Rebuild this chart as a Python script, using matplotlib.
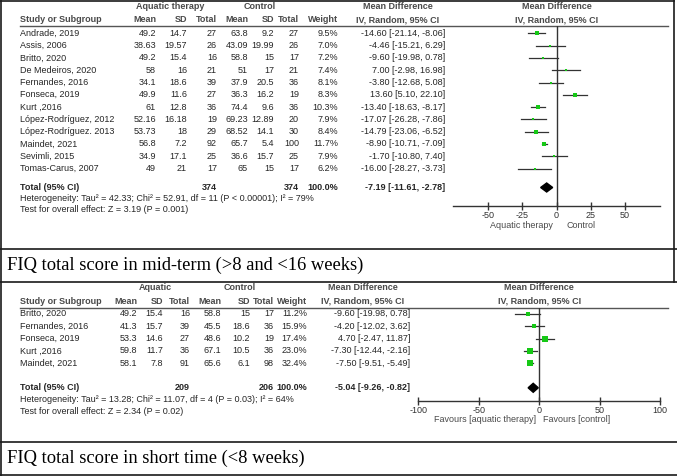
import matplotlib
matplotlib.use("Agg")
import matplotlib.pyplot as plt
from matplotlib.patches import Polygon

W, H = 677, 476

# ---- mid-term panel data ----
studies_mid = ["Andrade, 2019", "Assis, 2006", "Britto, 2020", "De Medeiros, 2020",
               "Fernandes, 2016", "Fonseca, 2019", "Kurt ,2016", "López-Rodríguez, 2012",
               "López-Rodríguez. 2013", "Maindet, 2021", "Sevimli, 2015", "Tomas-Carus, 2007"]
aq_mean_mid = [49.2, 38.63, 49.2, 58, 34.1, 49.9, 61, 52.16, 53.73, 56.8, 34.9, 49]
aq_sd_mid   = [14.7, 19.57, 15.4, 16, 18.6, 11.6, 12.8, 16.18, 18, 7.2, 17.1, 21]
aq_n_mid    = [27, 26, 16, 21, 39, 27, 36, 19, 29, 92, 25, 17]
ct_mean_mid = [63.8, 43.09, 58.8, 51, 37.9, 36.3, 74.4, 69.23, 68.52, 65.7, 36.6, 65]
ct_sd_mid   = [9.2, 19.99, 15, 17, 20.5, 16.2, 9.6, 12.89, 14.1, 5.4, 15.7, 15]
ct_n_mid    = [27, 26, 17, 21, 36, 19, 36, 20, 30, 100, 25, 17]
weight_mid  = [9.5, 7.0, 7.2, 7.4, 8.1, 8.3, 10.3, 7.9, 8.4, 11.7, 7.9, 6.2]
md_mid      = [-14.60, -4.46, -9.60, 7.00, -3.80, 13.60, -13.40, -17.07, -14.79, -8.90, -1.70, -16.00]
lo_mid      = [-21.14, -15.21, -19.98, -2.98, -12.68, 5.10, -18.63, -26.28, -23.06, -10.71, -10.80, -28.27]
hi_mid      = [-8.06, 6.29, 0.78, 16.98, 5.08, 22.10, -8.17, -7.86, -6.52, -7.09, 7.40, -3.73]
total_mid   = dict(an=374, cn=374, md=-7.19, lo=-11.61, hi=-2.78)
het_mid  = "Heterogeneity: Tau² = 42.33; Chi² = 52.91, df = 11 (P < 0.00001); I² = 79%"
test_mid = "Test for overall effect: Z = 3.19 (P = 0.001)"
ticks_mid = [-50, -25, 0, 25, 50]

# ---- short-time panel data ----
studies_short = ["Britto, 2020", "Fernandes, 2016", "Fonseca, 2019", "Kurt ,2016", "Maindet, 2021"]
aq_mean_short = [49.2, 41.3, 53.3, 59.8, 58.1]
aq_sd_short   = [15.4, 15.7, 14.6, 11.7, 7.8]
aq_n_short    = [16, 39, 27, 36, 91]
ct_mean_short = [58.8, 45.5, 48.6, 67.1, 65.6]
ct_sd_short   = [15, 18.6, 10.2, 10.5, 6.1]
ct_n_short    = [17, 36, 19, 36, 98]
weight_short  = [11.2, 15.9, 17.4, 23.0, 32.4]
md_short      = [-9.60, -4.20, 4.70, -7.30, -7.50]
lo_short      = [-19.98, -12.02, -2.47, -12.44, -9.51]
hi_short      = [0.78, 3.62, 11.87, -2.16, -5.49]
total_short   = dict(an=209, cn=206, md=-5.04, lo=-9.26, hi=-0.82)
het_short  = "Heterogeneity: Tau² = 13.28; Chi² = 11.07, df = 4 (P = 0.03); I² = 64%"
test_short = "Test for overall effect: Z = 2.34 (P = 0.02)"
ticks_short = [-100, -50, 0, 50, 100]

SANS = "Liberation Sans"
SERIF = "Liberation Serif"
FS = 6.5
TXT = "#262626"
HDR = "#4a4a4a"
LINE = "#333333"
GREEN = "#16c816"

fig = plt.figure(figsize=(W / 100, H / 100), dpi=100)
bg = fig.add_axes([0, 0, 1, 1])
bg.set_xlim(0, W)
bg.set_ylim(H, 0)
bg.axis("off")


def t(x, y, s, ha="left", bold=False, color=TXT, size=FS, family=SANS):
    bg.text(x, y, s, ha=ha, va="center", fontsize=size, family=family,
            fontweight="bold" if bold else "normal", color=color)


def panel(studies, am, asd, an, cm, csd, cn, wt, md, lo, hi, tot, het, test,
          ticks, xr, zero_px, ppu, L, left_lbl, right_lbl):
    # header
    t(L["aq_c"], L["h1"], L["aq_title"], ha="center", bold=True, color=HDR)
    t(L["ct_c"], L["h1"], "Control", ha="center", bold=True, color=HDR)
    t(L["ci"] - 47, L["h1"], "Mean Difference", ha="center", bold=True, color=HDR)
    t(zero_px, L["h1"], "Mean Difference", ha="center", bold=True, color=HDR)
    hdrs = [("Study or Subgroup", 20, "left"), ("Mean", L["am"], "right"), ("SD", L["asd"], "right"),
            ("Total", L["an"], "right"), ("Mean", L["cm"], "right"), ("SD", L["csd"], "right"),
            ("Total", L["cn"], "right"), ("Weight", L["w"], "right")]
    for s, x, ha in hdrs:
        t(x, L["h2"], s, ha=ha, bold=True, color=HDR)
    t(L["ci"] - 47, L["h2"], "IV, Random, 95% CI", ha="center", bold=True, color=HDR)
    t(zero_px, L["h2"], "IV, Random, 95% CI", ha="center", bold=True, color=HDR)
    bg.plot([20, 668], [L["ul"], L["ul"]], color="#555555", lw=1)

    y0, dy = L["row0"], L["dy"]
    for i, name in enumerate(studies):
        y = y0 + i * dy
        t(20, y, name)
        t(L["am"], y, f"{am[i]:g}", ha="right")
        t(L["asd"], y, f"{asd[i]:g}", ha="right")
        t(L["an"], y, f"{an[i]}", ha="right")
        t(L["cm"], y, f"{cm[i]:g}", ha="right")
        t(L["csd"], y, f"{csd[i]:g}", ha="right")
        t(L["cn"], y, f"{cn[i]}", ha="right")
        t(L["w"], y, f"{wt[i]:.1f}%", ha="right")
        t(L["ci"], y, f"{md[i]:.2f} [{lo[i]:.2f}, {hi[i]:.2f}]", ha="right")
    yt = L["tot"]
    t(20, yt, "Total (95% CI)", bold=True)
    t(L["an"], yt, f"{tot['an']}", ha="right", bold=True)
    t(L["cn"], yt, f"{tot['cn']}", ha="right", bold=True)
    t(L["w"], yt, "100.0%", ha="right", bold=True)
    t(L["ci"], yt, f"{tot['md']:.2f} [{tot['lo']:.2f}, {tot['hi']:.2f}]", ha="right", bold=True)
    t(20, L["het"], het)
    t(20, L["test"], test)

    # forest axes, positioned in pixels
    x0 = zero_px + xr[0] * ppu
    x1 = zero_px + xr[1] * ppu
    ax = fig.add_axes([x0 / W, 1 - L["axis"] / H, (x1 - x0) / W, (L["axis"] - L["ul"]) / H])
    ax.set_xlim(*xr)
    rtop = (L["ul"] - y0) / dy
    rbot = (L["axis"] - y0) / dy
    ax.set_ylim(rbot, rtop)
    ax.patch.set_alpha(0)
    for sp in ["top", "left", "right"]:
        ax.spines[sp].set_visible(False)
    ax.spines["bottom"].set_color(LINE)
    ax.spines["bottom"].set_linewidth(1)
    ax.set_yticks([])
    ax.set_xticks(ticks)
    ax.set_xticklabels([f"{v}" for v in ticks], family=SANS)
    ax.tick_params(axis="x", direction="inout", length=6, width=1, colors=LINE,
                   labelsize=FS, pad=0.5)
    ax.axvline(0, color=LINE, lw=1)
    for i in range(len(studies)):
        ax.plot([lo[i], hi[i]], [i, i], color=LINE, lw=0.9, clip_on=False)
        ax.plot(md[i], i, marker="s", ms=1.05 * wt[i] ** 0.5 * 0.72 * L["msk"],
                color=GREEN, mec=GREEN, mew=0, clip_on=False)
    rt = (yt - y0) / dy
    h = 4.5 / dy
    ax.add_patch(Polygon([(tot["lo"], rt), (tot["md"], rt - h), (tot["hi"], rt), (tot["md"], rt + h)],
                         closed=True, color="black", clip_on=False))
    t(zero_px - 3.5, L["fav"], left_lbl, ha="right", color=HDR)
    t(zero_px + L["gap"], L["fav"], right_lbl, ha="left", color=HDR)


L_mid = dict(aq_title="Aquatic therapy", aq_c=170, ct_c=260, h1=6.5, h2=19.5, ul=25.5,
             am=156, asd=187, an=217, cm=248, csd=274, cn=299, w=338, ci=445,
             row0=33.3, dy=12.3, tot=187.5, het=198.5, test=209.5, axis=206, fav=225.5,
             gap=10, msk=1.0)
panel(studies_mid, aq_mean_mid, aq_sd_mid, aq_n_mid, ct_mean_mid, ct_sd_mid, ct_n_mid,
      weight_mid, md_mid, lo_mid, hi_mid, total_mid, het_mid, test_mid,
      ticks_mid, (-75.5, 75.5), 556.5, 1.367, L_mid, "Aquatic therapy", "Control")

L_short = dict(aq_title="Aquatic", aq_c=155, ct_c=240, h1=288, h2=301, ul=307.7,
               am=137, asd=163, an=190, cm=221.5, csd=250, cn=274, w=307, ci=410,
               row0=313.7, dy=12.4, tot=387.8, het=399.5, test=411, axis=401, fav=420,
               gap=4, msk=1.15)
panel(studies_short, aq_mean_short, aq_sd_short, aq_n_short, ct_mean_short, ct_sd_short,
      ct_n_short, weight_short, md_short, lo_short, hi_short, total_short, het_short,
      test_short, ticks_short, (-100, 100), 539.3, 1.209, L_short,
      "Favours [aquatic therapy]", "Favours [control]")

# frame and section lines
K = "#1a1a1a"
bg.plot([0.8, 0.8], [0.5, 475.5], color=K, lw=1.2)
bg.plot([0, 674], [0.6, 0.6], color=K, lw=1.2)
bg.plot([674, 674], [0, 282], color=K, lw=1.2)
for y in [249, 282, 442, 475.3]:
    bg.plot([0, W], [y, y], color=K, lw=1.2)

t(7, 265.5, "FIQ total score in mid-term (>8 and <16 weeks)", size=13.3, family=SERIF, color="black")
t(7, 458.5, "FIQ total score in short time (<8 weeks)", size=13.3, family=SERIF, color="black")

fig.savefig("out.png", dpi=100)
